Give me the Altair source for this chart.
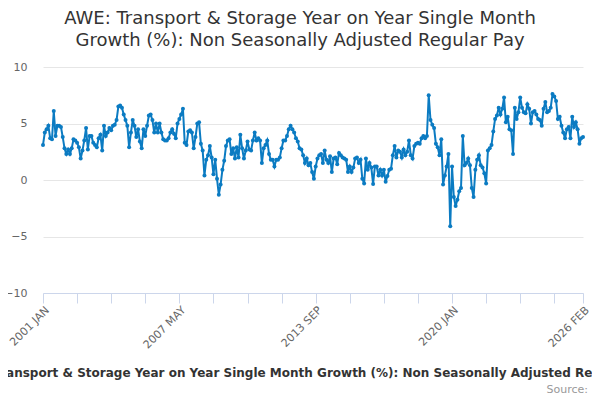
import pandas as pd
import altair as alt

TITLE_LINES = [
    "AWE: Transport & Storage Year on Year Single Month",
    "Growth (%): Non Seasonally Adjusted Regular Pay",
]
SERIES_NAME = ("AWE: Transport & Storage Year on Year Single Month Growth (%): "
               "Non Seasonally Adjusted Regular Pay")
SOURCE_TEXT = "Source:"

# monthly values, 2001 JAN .. 2026 FEB
VALUES = [
    3.1, 4.2, 4.5, 4.8, 3.7, 3.6, 6.1, 3.9, 4.8, 4.8,
    4.7, 3.8, 2.8, 2.3, 2.7, 2.3, 2.8, 3.6, 3.5, 3.3,
    2.9, 1.9, 2.6, 3.5, 4.6, 2.7, 3.9, 3.9, 3.3, 3.1,
    2.9, 3.7, 4.0, 2.6, 4.8, 3.9, 4.2, 4.6, 4.4, 4.8,
    4.9, 5.3, 6.5, 6.6, 6.4, 5.8, 5.3, 4.8, 2.9, 4.2,
    5.3, 4.8, 3.8, 4.5, 3.4, 2.8, 4.5, 3.9, 4.8, 5.7,
    5.8, 5.3, 4.2, 5.0, 4.2, 5.0, 4.2, 3.6, 3.5, 3.5,
    3.7, 4.2, 4.5, 4.1, 3.7, 5.0, 5.4, 5.8, 6.3, 3.3,
    3.1, 4.3, 4.4, 4.2, 2.8, 3.8, 5.0, 5.1, 3.2, 2.6,
    0.4, 1.8, 2.2, 3.0, 2.0, 0.5, 1.8, 0.1, -1.3, -0.4,
    0.9, 1.7, 3.0, 3.5, 3.6, 2.3, 2.8, 1.9, 2.9, 2.0,
    4.0, 2.8, 1.9, 2.6, 3.4, 2.7, 2.6, 3.5, 4.2, 3.5,
    3.7, 3.5, 1.5, 2.8, 3.1, 3.5, 2.3, 1.8, 1.8, 1.2,
    1.8, 1.8, 2.0, 2.8, 3.5, 3.5, 3.9, 4.5, 4.8, 4.5,
    4.2, 3.7, 3.4, 2.8, 2.7, 2.2, 1.5, 1.9, 1.3, 1.5,
    0.7, 0.1, 1.2, 1.9, 2.2, 2.3, 1.5, 2.6, 1.8, 1.5,
    2.1, 0.7, 1.9, 2.0, 1.4, 2.4, 2.2, 2.0, 1.9, 1.8,
    0.7, 1.2, 0.7, 1.1, 1.9, 2.0, 1.5, 1.8, 0.1, -0.3,
    1.9, 0.9, 1.5, 1.1, -0.35, 1.2, 1.2, 0.4, 0.9, 0.4,
    0.9, -0.15, 0.35, 0.9, 1.0, 2.2, 3.0, 2.0, 2.6, 2.5,
    2.0, 2.7, 2.2, 2.5, 3.5, 2.2, 1.9, 3.0, 3.2, 3.3,
    3.2, 3.7, 3.9, 3.7, 3.9, 7.5, 5.3, 4.9, 4.6, 3.2,
    2.9, 2.2, 3.6, -0.4, 0.4, 1.2, 2.3, -4.1, 1.2, -1.5,
    -2.3, -1.75, -1.0, -0.7, 3.9, 1.3, 1.5, 1.9, 1.3, -0.7,
    -1.5, 0.9, 1.8, 2.2, 1.3, 1.1, 0.6, -0.3, 2.6, 2.8,
    3.1, 4.3, 5.4, 5.7, 6.4, 5.8, 6.3, 7.3, 5.1, 5.6,
    4.5, 4.4, 2.3, 6.4, 5.4, 6.0, 7.3, 6.4, 6.0, 5.9,
    6.7, 6.3, 5.0, 6.0, 6.1, 5.8, 5.4, 5.3, 4.8, 6.3,
    6.9, 6.0, 6.1, 6.4, 7.6, 7.4, 7.0, 5.4, 5.6, 4.8,
    4.2, 3.7, 4.5, 4.7, 3.7, 5.6, 4.7, 5.1, 4.5, 3.2,
    3.7, 3.8,
]
PERIODS = (pd.date_range("2001-01-01", periods=len(VALUES), freq="MS")
           .strftime("%Y %b").str.upper().tolist())
LABELLED_TICKS = ["2001 JAN", "2007 MAY", "2013 SEP", "2020 JAN", "2026 FEB"]
Y_TICKS = [-10, -5, 0, 5, 10]

LINE_COLOR = "#0b7bc2"
FONT = "DejaVu Sans"

df = pd.DataFrame({"period": PERIODS, "value": VALUES})
tick_values = PERIODS[::19] + [PERIODS[-1]]
label_expr = ("(" + " || ".join(f"datum.value == '{t}'" for t in LABELLED_TICKS)
              + ") ? datum.value : ''")

line = alt.Chart(df).mark_line(
    color=LINE_COLOR, strokeWidth=2,
    point=alt.OverlayMarkDef(color=LINE_COLOR, size=16, filled=True)
).encode(
    x=alt.X("period:O", sort=None, title=None,
            scale=alt.Scale(type="point", padding=0),
            axis=alt.Axis(values=tick_values, labelExpr=label_expr,
                          labelAngle=-45, labelAlign="right", labelBaseline="top",
                          labelColor="#666666", labelFontSize=11, labelPadding=1,
                          labelFont=FONT,
                          domainColor="#ccd6eb", tickColor="#ccd6eb", tickSize=10,
                          grid=False, labelOverlap=False)),
    y=alt.Y("value:Q", title=None,
            scale=alt.Scale(domain=[-10, 10], nice=False),
            axis=alt.Axis(values=Y_TICKS, labelColor="#666666", labelFontSize=11,
                          labelFont=FONT, labelPadding=16, gridColor="#e6e6e6",
                          domain=False, ticks=False)),
)

legend_label = alt.Chart(pd.DataFrame({"t": [SERIES_NAME]})).mark_text(
    font=FONT, fontSize=12, fontWeight="bold", color="#333333",
    align="center", baseline="middle"
).encode(x=alt.value(262), y=alt.value(306), text="t:N")

source_label = alt.Chart(pd.DataFrame({"t": [SOURCE_TEXT]})).mark_text(
    font=FONT, fontSize=11, color="#999999", align="right", baseline="middle"
).encode(x=alt.value(545), y=alt.value(323), text="t:N")

chart = alt.layer(line, legend_label, source_label).properties(
    width=540, height=226,
    autosize=alt.AutoSizeParams(type="none"),
    padding={"left": 35, "top": 59, "right": 9, "bottom": 103},
    title=alt.Title(TITLE_LINES, fontSize=18, font=FONT, fontWeight="normal",
                    color="#333333", anchor="middle", dx=-13, dy=23, offset=16,
                    lineHeight=22, baseline="bottom"),
).configure(font=FONT).configure_view(strokeWidth=0)

chart.save("out.html", embed_options={"renderer": "svg", "actions": False})
